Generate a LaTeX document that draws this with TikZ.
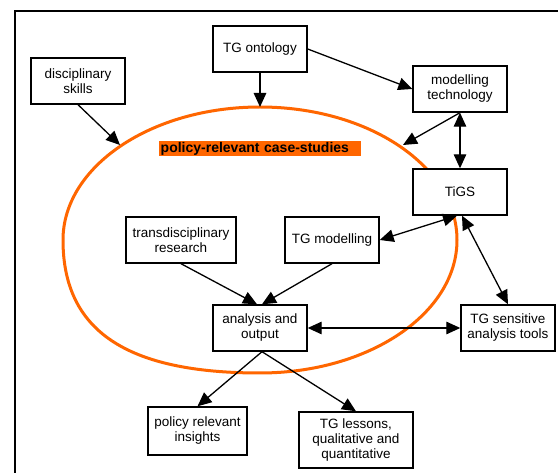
\documentclass[tikz,border=0pt]{standalone}
\usepackage{fontspec}
\setmainfont{Liberation Sans}
\usetikzlibrary{arrows.meta}
\definecolor{orng}{HTML}{FF6600}
\begin{document}
\begin{tikzpicture}[x=1pt,y=-1pt,
  box/.style={draw, fill=white, line width=1.4pt, inner sep=0pt, minimum width=94pt, minimum height=46pt, align=center, font=\fontsize{13.5}{15}\selectfont},
  tip/.tip={Triangle[length=14pt,width=12.5pt]},
  conn/.style={line width=1.3pt, -tip},
  dconn/.style={line width=1.3pt, tip-tip},
  frame/.style={line width=2pt},
  lblstyle/.style={fill=orng, anchor=west, minimum height=15pt, inner xsep=1.5pt, inner ysep=0pt, text width=199pt, align=left, font=\bfseries\fontsize{14}{15}\selectfont}
]
\useasboundingbox (0,0) rectangle (558,473);
\fill[white] (0,0) rectangle (558,473);
\draw[frame] (15,480) -- (15,11) -- (565,11);
% case-study oval
\draw[orng, line width=3pt] (63,240) .. controls (63,166.5) and (151.2,107) .. (260,107)
  .. controls (368.8,107) and (457,166.5) .. (457,240)
  .. controls (457,313.5) and (368.8,373) .. (260,373)
  .. controls (126,373) and (63,330.4) .. (63,240) -- cycle;
\node[lblstyle] (lbl) at (159,148.5) {policy-relevant case-studies};
% boxes
\node[box] (onto) at (260,49) {TG ontology};
\node[box] (disc) at (78,81) {disciplinary\\skills};
\node[box] (tech) at (460,89) {modelling\\technology};
\node[box] (tigs) at (460,192) {TiGS};
\node[box, minimum width=110pt] (trans) at (181,240) {transdisciplinary\\research};
\node[box] (tgmod) at (332,240) {TG modelling};
\node[box] (anal) at (260,328) {analysis and\\output};
\node[box] (sens) at (508,328) {TG sensitive\\analysis tools};
\node[box, minimum width=99pt, minimum height=48pt] (ins) at (197.5,431) {policy relevant\\insights};
\node[box, minimum width=114pt, minimum height=56pt] (less) at (356,440) {TG lessons,\\qualitative and\\quantitative};
% points on the oval
\coordinate (eTop) at (260,107);
\coordinate (eDisc) at (120,145);
\coordinate (eTech) at (403,145);
% connectors
\draw[conn] (disc.south) -- (eDisc);
\draw[conn] (onto.south) -- (eTop);
\draw[conn] (onto.east) -- (tech.west);
\draw[conn] (tech.south) -- (eTech);
\draw[dconn] (tech.south) -- (tigs.north);
\draw[dconn] ([xshift=-3pt]tigs.south) -- (tgmod.east);
\draw[dconn] ([xshift=2pt]tigs.south) -- (sens.north);
\draw[conn] (trans.south) -- ([xshift=-3pt]anal.north);
\draw[conn] (tgmod.south) -- ([xshift=2pt]anal.north);
\draw[dconn] (anal.east) -- (sens.west);
\draw[conn] ([xshift=2pt]anal.south) -- (ins.north);
\draw[conn] ([xshift=2pt]anal.south) -- (less.north);
\end{tikzpicture}
\end{document}
